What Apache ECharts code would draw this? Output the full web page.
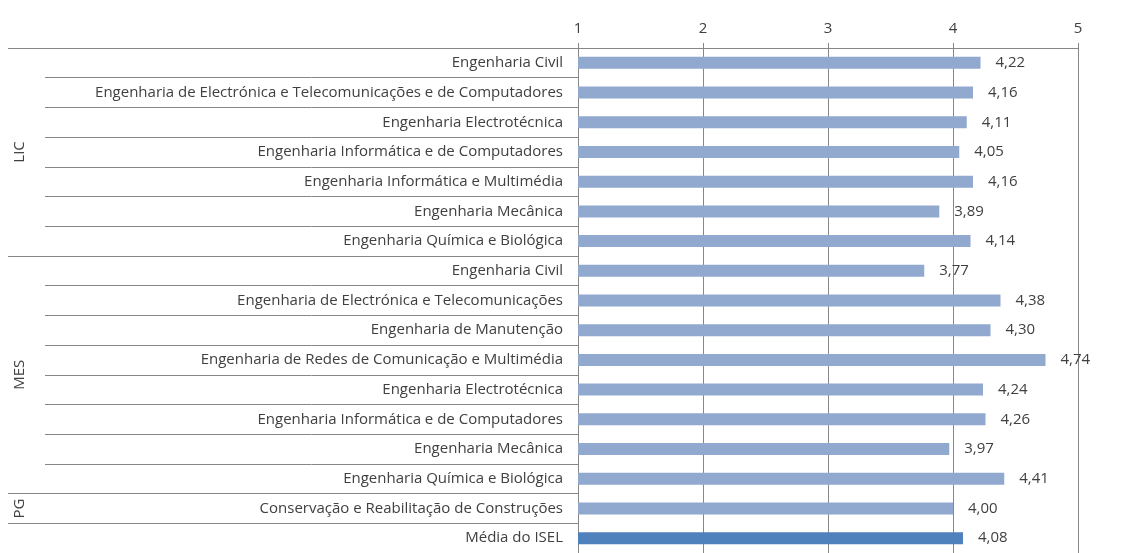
<!DOCTYPE html>
<html><head><meta charset="utf-8">
<script src="https://cdn.jsdelivr.net/npm/echarts@6/dist/echarts.min.js"></script>
<style>html,body{margin:0;padding:0;background:#fff}#c{width:1139px;height:553px}</style>
</head><body><div id="c"></div>
<script>
const categories = [
 "Engenharia Civil",
 "Engenharia de Electrónica e Telecomunicações e de Computadores",
 "Engenharia Electrotécnica",
 "Engenharia Informática e de Computadores",
 "Engenharia Informática e Multimédia",
 "Engenharia Mecânica",
 "Engenharia Química e Biológica",
 "Engenharia Civil",
 "Engenharia de Electrónica e Telecomunicações",
 "Engenharia de Manutenção",
 "Engenharia de Redes de Comunicação e Multimédia",
 "Engenharia Electrotécnica",
 "Engenharia Informática e de Computadores",
 "Engenharia Mecânica",
 "Engenharia Química e Biológica",
 "Conservação e Reabilitação de Construções",
 "Média do ISEL"
];
const values = [4.22,4.16,4.11,4.05,4.16,3.89,4.14,3.77,4.38,4.30,4.74,4.24,4.26,3.97,4.41,4.00,4.08];
const groupNames = ["LIC","MES","PG"];
const groupStart = [0,7,15];
const groupEnd = [6,14,15];
const averageIndex = 16;
const xTicks = [1,2,3,4,5];

const FONT = "Open Sans";
const FS = 15;
const chart = echarts.init(document.getElementById('c'), null, {renderer:'canvas'});
const boundaryIdx = groupStart.concat([averageIndex]);
chart.setOption({
  backgroundColor:'#fff',
  animation:false,
  grid:{left:578, top:48, width:500, height:509, containLabel:false},
  xAxis:{
    type:'value', position:'top', min:xTicks[0], max:xTicks[xTicks.length-1], interval:1,
    axisLine:{show:true, lineStyle:{color:'#878787', width:1}},
    axisTick:{show:true, length:5, lineStyle:{color:'#878787'}},
    splitLine:{show:true, lineStyle:{color:'#878787', width:1}},
    axisLabel:{color:'#404040', fontFamily:FONT, fontSize:FS, margin:12}
  },
  yAxis:[{
    type:'category', inverse:true, data:categories,
    axisLine:{show:true, lineStyle:{color:'#878787'}},
    axisTick:{show:true, length:533, lineStyle:{color:'#878787'}},
    axisLabel:{color:'#404040', fontFamily:FONT, fontSize:FS, margin:15}
  },{
    type:'category', inverse:true, data:categories, position:'left',
    axisLine:{show:false},
    axisTick:{show:true, length:570, interval:(i)=>boundaryIdx.includes(i), lineStyle:{color:'#878787'}},
    axisLabel:{show:false}
  }],
  series:[{
    type:'bar', yAxisIndex:0, barWidth:12,
    data: values.map((v,i)=>({value:v, itemStyle:{color: i===averageIndex ? '#4F81BD' : '#91A8CF'}})),
    label:{show:true, position:'right', distance:15, color:'#404040', fontFamily:FONT, fontSize:FS,
      formatter:(p)=>p.value.toFixed(2).replace('.',',')}
  }]
});
const texts = groupNames.map((g,k)=>{
  const y = (chart.convertToPixel({yAxisIndex:0}, groupStart[k]) + chart.convertToPixel({yAxisIndex:0}, groupEnd[k]))/2;
  return {type:'text', x:20, y:y, rotation:Math.PI/2,
    style:{text:g, fill:'#404040', font:FS+'px "Open Sans"', align:'center', verticalAlign:'middle'}};
});
chart.setOption({graphic:texts});
</script></body></html>
